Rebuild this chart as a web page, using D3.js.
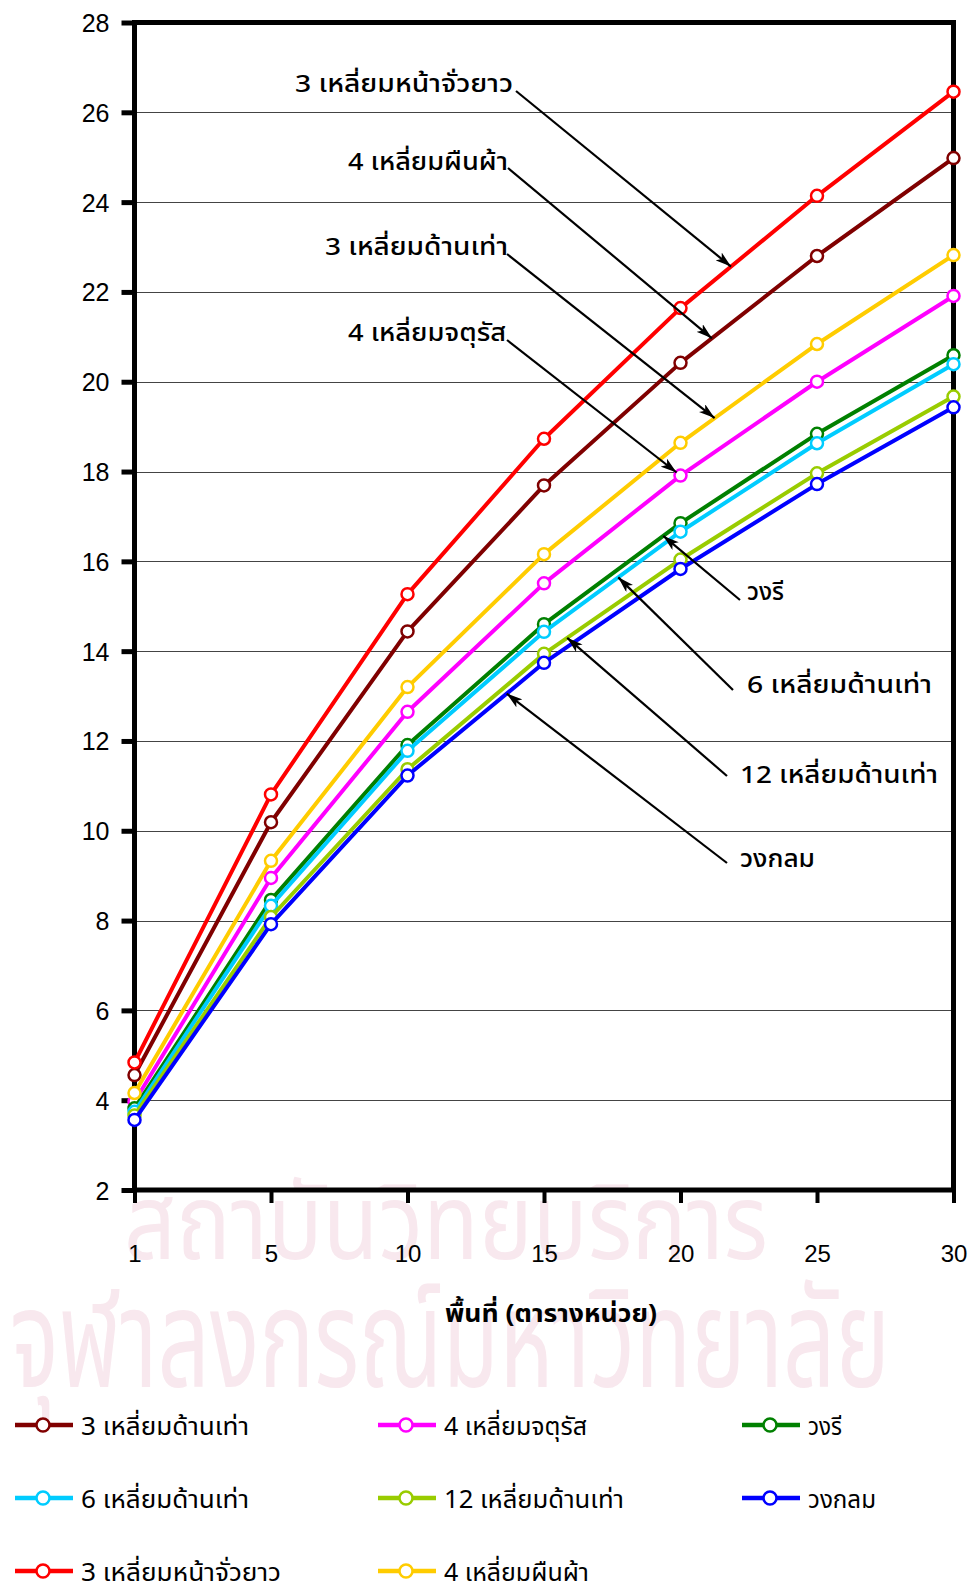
<!DOCTYPE html>
<html>
<head>
<meta charset="utf-8">
<script src="https://cdn.jsdelivr.net/npm/d3@7"></script>
<style>
  html, body { margin: 0; padding: 0; background: #fff; }
  svg { display: block; }
  .thai { font-family: "Noto Sans Thai", "Noto Sans Thai UI", Tahoma, "Noto Sans", "DejaVu Sans", sans-serif; }
  .num { font-family: "Liberation Sans", Arial, sans-serif; }
</style>
</head>
<body>
<svg id="chart" width="971" height="1590"></svg>
<script>
// Area categories (square units) along the x axis
const categories = ["1", "5", "10", "15", "20", "25", "30"];
const yTicks = [2, 4, 6, 8, 10, 12, 14, 16, 18, 20, 22, 24, 26, 28];

// Perimeter values for each shape, one array per series
const tri_equi   = [4.56, 10.19, 14.44, 17.69, 20.42, 22.80, 24.98];
const square     = [3.97, 8.95, 12.65, 15.51, 17.91, 20.00, 21.91];
const ellipse    = [3.82, 8.46, 11.91, 14.60, 16.85, 18.84, 20.59];
const hex_equi   = [3.74, 8.33, 11.78, 14.43, 16.66, 18.63, 20.39];
const dodeca     = [3.66, 8.08, 11.37, 13.94, 16.04, 17.96, 19.67];
const circle     = [3.56, 7.92, 11.23, 13.74, 15.83, 17.72, 19.43];
const tri_isos   = [4.84, 10.81, 15.27, 18.73, 21.64, 24.14, 26.46];
const rectangle  = [4.16, 9.33, 13.20, 16.16, 18.64, 20.84, 22.82];

const seriesNames = [
  "3 เหลี่ยมด้านเท่า", "4 เหลี่ยมจตุรัส", "วงรี",
  "6 เหลี่ยมด้านเท่า", "12 เหลี่ยมด้านเท่า", "วงกลม",
  "3 เหลี่ยมหน้าจั่วยาว", "4 เหลี่ยมผืนผ้า"
];
const seriesValues = [tri_equi, square, ellipse, hex_equi, dodeca, circle, tri_isos, rectangle];
const seriesColors = ["#800000", "#FF00FF", "#008000", "#00CCFF", "#99CC00", "#0000FF", "#FF0000", "#FFCC00"];
// rendered widths of the legend entries
const legendWidths = [168, 143, 34, 168, 180, 68, 200, 145];

const xTitle = "พื้นที่ (ตารางหน่วย)";

// Callout labels: text, target series index, segment start index and fraction along it
const callouts = [
  { text: "3 เหลี่ยมหน้าจั่วยาว", series: 6, seg: 4, t: 0.37, tx: 295, ty: 92, w: 218, sx: 516, sy: 91 },
  { text: "4 เหลี่ยมผืนผ้า",      series: 0, seg: 4, t: 0.23, tx: 348, ty: 170, w: 160, sx: 508, sy: 168 },
  { text: "3 เหลี่ยมด้านเท่า",     series: 7, seg: 4, t: 0.25, tx: 325, ty: 255, w: 183, sx: 507, sy: 254 },
  { text: "4 เหลี่ยมจตุรัส",       series: 1, seg: 4, t: 0.0,  tx: 348, ty: 341, w: 158, sx: 507, sy: 340, back: 5 },
  { text: "วงรี",                  series: 2, seg: 3, t: 0.874, tx: 747, ty: 600, w: 37, sx: 740, sy: 600 },
  { text: "6 เหลี่ยมด้านเท่า",     series: 3, seg: 3, t: 0.544, tx: 747, ty: 693, w: 185, sx: 733, sy: 690 },
  { text: "12 เหลี่ยมด้านเท่า",    series: 4, seg: 3, t: 0.17, tx: 740, ty: 783, w: 198, sx: 727, sy: 776 },
  { text: "วงกลม",                 series: 5, seg: 2, t: 0.727, tx: 740, ty: 867, w: 75, sx: 727, sy: 863 }
];

const svg = d3.select("#chart");
const plotLeft = 134.5, plotRight = 953.5, plotTop = 22.5, plotBottom = 1190;

const x = d3.scalePoint().domain(categories).range([plotLeft, plotRight]);
const y = d3.scaleLinear().domain([2, 28]).range([plotBottom, plotTop]);

svg.append("rect").attr("width", 971).attr("height", 1590).attr("fill", "#fff");

// faint institutional watermark text
const wm = svg.append("g").attr("class", "thai").attr("fill", "#f8e8ee");
wm.append("text").attr("x", 124).attr("y", 1259)
  .attr("font-size", 106).attr("textLength", 644).attr("lengthAdjust", "spacingAndGlyphs")
  .text("สถาบันวิทยบริการ");
wm.append("text").attr("x", 10).attr("y", 1387)
  .attr("font-size", 138).attr("textLength", 880).attr("lengthAdjust", "spacingAndGlyphs")
  .text("จุฬาลงกรณ์มหาวิทยาลัย");

// horizontal gridlines
svg.append("g")
  .selectAll("line")
  .data(yTicks.filter(v => v > 2 && v < 28))
  .join("line")
  .attr("x1", plotLeft).attr("x2", plotRight)
  .attr("y1", d => Math.round(y(d)) + 0.5).attr("y2", d => Math.round(y(d)) + 0.5)
  .attr("stroke", "#444").attr("stroke-width", 1);

// y axis
const yAxis = svg.append("g").attr("transform", `translate(${plotLeft},0)`)
  .call(d3.axisLeft(y).tickValues(yTicks).tickSize(13).tickPadding(12).tickFormat(d3.format("d")));
yAxis.select(".domain").remove();
yAxis.selectAll(".tick line").attr("stroke", "#000").attr("stroke-width", 5);
yAxis.selectAll(".tick text").attr("class", "num").attr("font-size", 25).attr("fill", "#000")
  .attr("dy", "0.36em");

// x axis
const xAxis = svg.append("g").attr("transform", `translate(0,${plotBottom})`)
  .call(d3.axisBottom(x).tickSize(13).tickPadding(42));
xAxis.select(".domain").remove();
xAxis.selectAll(".tick line").attr("stroke", "#000").attr("stroke-width", 4);
xAxis.selectAll(".tick text").attr("class", "num").attr("font-size", 24).attr("fill", "#000");

// plot frame
svg.append("rect")
  .attr("x", plotLeft).attr("y", plotTop)
  .attr("width", plotRight - plotLeft).attr("height", plotBottom - plotTop)
  .attr("fill", "none").attr("stroke", "#000").attr("stroke-width", 5);

// x axis title
svg.append("text").attr("class", "thai")
  .attr("x", 445).attr("y", 1322)
  .attr("font-size", 25).attr("font-weight", "bold")
  .attr("textLength", 212).attr("lengthAdjust", "spacingAndGlyphs").text(xTitle);

// series lines and markers
const line = d3.line().x((d, i) => x(categories[i])).y(d => y(d));
const seriesG = svg.append("g");
seriesValues.forEach((vals, k) => {
  const g = seriesG.append("g");
  g.append("path").datum(vals).attr("d", line)
    .attr("fill", "none").attr("stroke", seriesColors[k]).attr("stroke-width", 4)
    .attr("stroke-linejoin", "round");
  g.selectAll("circle").data(vals).join("circle")
    .attr("cx", (d, i) => x(categories[i])).attr("cy", d => y(d)).attr("r", 6)
    .attr("fill", "#fff").attr("stroke", seriesColors[k]).attr("stroke-width", 2.5);
});

// arrowhead
svg.append("defs").append("marker")
  .attr("id", "arrow").attr("viewBox", "0 0 16 10").attr("refX", 16).attr("refY", 5)
  .attr("markerWidth", 16).attr("markerHeight", 10).attr("markerUnits", "userSpaceOnUse")
  .attr("orient", "auto")
  .append("path").attr("d", "M0,0 L16,5 L0,10 L4,5 Z").attr("fill", "#000");

// callouts
const cg = svg.append("g");
callouts.forEach(c => {
  const vals = seriesValues[c.series];
  const x0 = x(categories[c.seg]), x1 = x(categories[c.seg + 1]);
  let ex = x0 + (x1 - x0) * c.t;
  let ey = y(vals[c.seg]) + (y(vals[c.seg + 1]) - y(vals[c.seg])) * c.t;
  if (c.back) {
    const dx = ex - c.sx, dy = ey - c.sy, len = Math.hypot(dx, dy);
    ex -= dx / len * c.back; ey -= dy / len * c.back;
  }
  cg.append("line").attr("x1", c.sx).attr("y1", c.sy).attr("x2", ex).attr("y2", ey)
    .attr("stroke", "#000").attr("stroke-width", 2.2).attr("marker-end", "url(#arrow)");
  cg.append("text").attr("class", "thai").attr("x", c.tx).attr("y", c.ty)
    .attr("font-size", 24).attr("font-weight", 500).attr("fill", "#000")
    .attr("textLength", c.w).attr("lengthAdjust", "spacingAndGlyphs").text(c.text);
});

// legend
const legend = svg.append("g");
const colX = [15, 378, 742], rowY = [1425, 1498, 1571];
seriesNames.forEach((name, k) => {
  const lx = colX[k % 3], ly = rowY[Math.floor(k / 3)];
  const g = legend.append("g").attr("transform", `translate(${lx},${ly})`);
  g.append("line").attr("x1", 0).attr("x2", 58).attr("y1", 0).attr("y2", 0)
    .attr("stroke", seriesColors[k]).attr("stroke-width", 4.5);
  g.append("circle").attr("cx", 28).attr("cy", 0).attr("r", 6.5)
    .attr("fill", "#fff").attr("stroke", seriesColors[k]).attr("stroke-width", 2.5);
  g.append("text").attr("class", "thai").attr("x", 66).attr("y", 10)
    .attr("font-size", 25).attr("fill", "#000")
    .attr("textLength", legendWidths[k]).attr("lengthAdjust", "spacingAndGlyphs").text(name);
});
</script>
</body>
</html>
